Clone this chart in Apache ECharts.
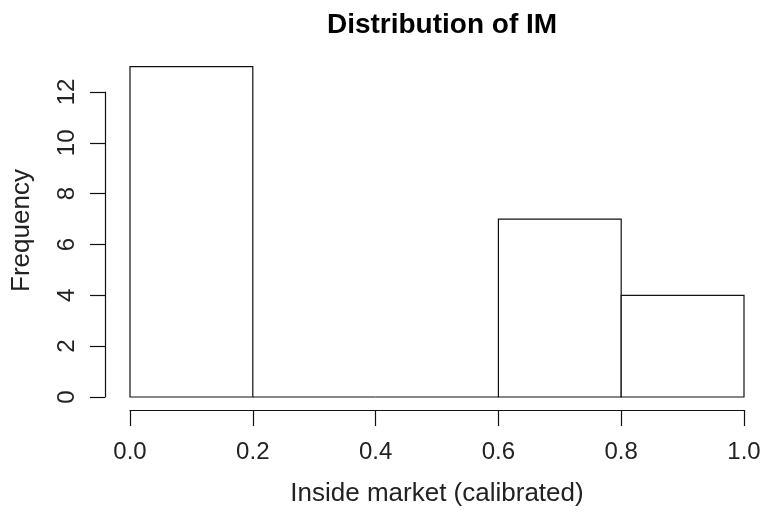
<!DOCTYPE html>
<html>
<head>
<meta charset="utf-8">
<script src="https://cdn.jsdelivr.net/npm/echarts@6/dist/echarts.min.js"></script>
<style>
  html, body { margin: 0; padding: 0; background: #fff; }
  #chart { width: 767px; height: 515px; }
</style>
</head>
<body>
<div id="chart"></div>
<script>
// Histogram bins (left edge, right edge) and counts
const binStarts = [0.0, 0.2, 0.4, 0.6, 0.8];
const binEnds   = [0.2, 0.4, 0.6, 0.8, 1.0];
const counts    = [13, 0, 0, 7, 4];

const chartTitle = 'Distribution of IM';
const xTitle = 'Inside market (calibrated)';
const yTitle = 'Frequency';

const FONT = '"Liberation Sans", Arial, Helvetica, sans-serif';
const INK = '#111';

const bins = binStarts.map((s, i) => [s, binEnds[i], counts[i]]);

const chart = echarts.init(document.getElementById('chart'), null, { renderer: 'canvas' });

chart.setOption({
  backgroundColor: '#fff',
  animation: false,
  title: {
    text: chartTitle,
    left: 437,
    top: 6,
    textAlign: 'center',
    textStyle: { fontFamily: FONT, fontWeight: 'bold', fontSize: 28, color: '#000' }
  },
  grid: { left: 130, right: 23, top: 92, bottom: 118, containLabel: false },
  xAxis: {
    type: 'value',
    min: 0, max: 1, interval: 0.2,
    offset: 13,
    name: xTitle,
    nameLocation: 'middle',
    nameGap: 71,
    nameTextStyle: { fontFamily: FONT, fontSize: 26, color: '#222' },
    axisLine: { show: true, onZero: false, lineStyle: { color: INK, width: 1.2 } },
    axisTick: { show: true, length: 16, lineStyle: { color: INK, width: 1.2 } },
    axisLabel: {
      margin: 30,
      fontFamily: FONT, fontSize: 24, color: '#222',
      formatter: v => v.toFixed(1)
    },
    splitLine: { show: false }
  },
  yAxis: {
    type: 'value',
    min: 0, max: 12, interval: 2,
    offset: 25,
    name: yTitle,
    nameLocation: 'middle',
    nameRotate: 90,
    nameGap: 70,
    nameTextStyle: { fontFamily: FONT, fontSize: 26, color: '#222', padding: [0, 0, 0, 28] },
    axisLine: { show: true, onZero: false, lineStyle: { color: INK, width: 1.2 } },
    axisTick: { show: true, length: 15, lineStyle: { color: INK, width: 1.2 } },
    axisLabel: {
      rotate: 90,
      margin: 26,
      fontFamily: FONT, fontSize: 24, color: '#222'
    },
    splitLine: { show: false }
  },
  series: [{
    type: 'custom',
    clip: false,
    data: bins,
    encode: { x: [0, 1], y: 2 },
    renderItem: function (params, api) {
      const topLeft = api.coord([api.value(0), api.value(2)]);
      const bottomRight = api.coord([api.value(1), 0]);
      return {
        type: 'rect',
        shape: {
          x: topLeft[0],
          y: topLeft[1],
          width: bottomRight[0] - topLeft[0],
          height: bottomRight[1] - topLeft[1]
        },
        style: { fill: '#fff', stroke: INK, lineWidth: 1.2 }
      };
    }
  }]
});
</script>
</body>
</html>
